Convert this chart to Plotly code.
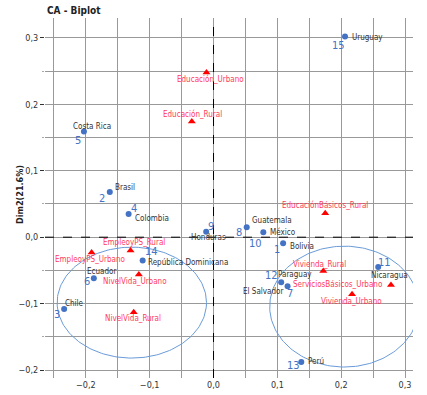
import numpy as np
import plotly.graph_objects as go

# ---------------- data ----------------
countries = ["Bolivia", "Brasil", "Chile", "Colombia", "Costa Rica", "Ecuador",
             "El Salvador", "Guatemala", "Honduras", "México", "Nicaragua",
             "Paraguay", "Perú", "República Dominicana", "Uruguay"]
country_ids = ["1", "2", "3", "4", "5", "6", "7", "8", "9", "10", "11", "12", "13", "14", "15"]
country_dim1 = [0.109, -0.1625, -0.234, -0.133, -0.203, -0.1875, 0.116, 0.052, -0.0115,
                0.078, 0.258, 0.106, 0.1375, -0.111, 0.206]
country_dim2 = [-0.009, 0.068, -0.108, 0.035, 0.159, -0.062, -0.074, 0.015, 0.008,
                0.0075, -0.045, -0.068, -0.188, -0.035, 0.302]

categories = ["Educación_Urbano", "Educación_Rural", "EducaciónBásicos_Rural",
              "EmpleoyPS_Rural", "EmpleoyPS_Urbano", "NivelVida_Urbano",
              "NivelVida_Rural", "Vivienda_Rural", "ServiciosBásicos_Urbano",
              "Vivienda_Urbano"]
category_dim1 = [-0.011, -0.034, 0.175, -0.130, -0.191, -0.117, -0.125, 0.172, 0.278, 0.217]
category_dim2 = [0.248, 0.174, 0.036, -0.020, -0.023, -0.056, -0.113, -0.051, -0.072, -0.086]

# cluster ellipses (center dim1, center dim2, radius dim1, radius dim2)
cluster_cx = [-0.128, 0.205]
cluster_cy = [-0.0985, -0.1045]
cluster_rx = [0.117, 0.117]
cluster_ry = [0.0835, 0.091]

x_ticks = [-0.2, -0.1, 0.0, 0.1, 0.2, 0.3]
y_ticks = [-0.2, -0.1, 0.0, 0.1, 0.2, 0.3]

# ---------------- label styles (pixel offsets) ----------------
# (anchor, dx, dy) ; dy positive = down
country_label_style = [
    ("left", 5, 3), ("center", 15, -5), ("center", 10, -5), ("left", 4, 5),
    ("center", 8, -5), ("center", 8, -7), ("right", -3, 5), ("left", 3, -7),
    ("center", 2, 6), ("left", 5, 0), ("center", 11, 8), ("center", 14, -8),
    ("left", 5, -1), ("left", 3, 2), ("left", 5, 1)]
country_id_style = [
    (-6, 6), (-8, 6), (-7, 6), (5, -5), (-6, 9), (-7, 3), (2, 7), (-8, 5),
    (5, -5), (-8, 11), (6, -5), (-10, -7), (-8, 3), (9, -9), (-7, 9)]
category_label_style = [
    ("center", 4, 7), ("center", 1, -8), ("center", 0, -8), ("center", 3, -8),
    ("center", -2, 7), ("center", -4, 7), ("center", -1, 6), ("center", -4, -7),
    ("right", -6, -1), ("center", -1, 7)]

FONT = "DejaVu Sans Condensed"
BLUE = "#4472C4"
RED = "#FF0000"
PINK = "#FF3B5C"
DARK = "#333333"
GRID = "#999999"

fig = go.Figure()

# ellipses
t = np.linspace(0, 2 * np.pi, 200)
for cx, cy, rx, ry in zip(cluster_cx, cluster_cy, cluster_rx, cluster_ry):
    fig.add_trace(go.Scatter(x=cx + rx * np.cos(t), y=cy + ry * np.sin(t), mode="lines",
                             line=dict(color="#6A9BD8", width=1), hoverinfo="skip",
                             showlegend=False))

fig.add_trace(go.Scatter(x=country_dim1, y=country_dim2, mode="markers",
                         marker=dict(color=BLUE, size=6), text=countries,
                         showlegend=False))
fig.add_trace(go.Scatter(x=category_dim1, y=category_dim2, mode="markers",
                         marker=dict(color=RED, size=7, symbol="triangle-up"),
                         text=categories, showlegend=False))

annotations = []
for name, x, y, (anc, dx, dy) in zip(countries, country_dim1, country_dim2, country_label_style):
    annotations.append(dict(x=x, y=y, text=name, showarrow=False, xanchor=anc,
                            yanchor="middle", xshift=dx, yshift=-dy,
                            font=dict(family=FONT, size=8, color=DARK)))
for cid, x, y, (dx, dy) in zip(country_ids, country_dim1, country_dim2, country_id_style):
    annotations.append(dict(x=x, y=y, text=cid, showarrow=False, xanchor="center",
                            yanchor="middle", xshift=dx, yshift=-dy,
                            font=dict(family=FONT, size=11, color=BLUE)))
for name, x, y, (anc, dx, dy) in zip(categories, category_dim1, category_dim2, category_label_style):
    annotations.append(dict(x=x, y=y, text=name, showarrow=False, xanchor=anc,
                            yanchor="middle", xshift=dx, yshift=-dy,
                            font=dict(family=FONT, size=8, color=PINK)))

annotations.append(dict(x=0, y=1.0, xref="paper", yref="paper", xanchor="left",
                        yanchor="middle", yshift=8, text="<b>CA - Biplot</b>",
                        showarrow=False, font=dict(family=FONT, size=10, color="#222222")))
annotations.append(dict(x=0, y=0.5, xref="paper", yref="paper", xanchor="center",
                        yanchor="middle", xshift=-25, yshift=3, textangle=-90,
                        text="<b>Dim2(21.6%)</b>", showarrow=False,
                        font=dict(family=FONT, size=9, color="#222222")))

shapes = [
    dict(type="line", xref="x", yref="paper", x0=0, x1=0, y0=0, y1=1,
         line=dict(color="black", width=1, dash="dash")),
    dict(type="line", xref="paper", yref="y", x0=0, x1=1, y0=0, y1=0,
         line=dict(color="black", width=1, dash="dash")),
]

axis_common = dict(
    showgrid=True, gridcolor=GRID, gridwidth=1, zeroline=False, showline=False,
    tickformat=".1f", tickfont=dict(family=FONT, size=9, color=DARK),
    automargin=False,
)

fig.update_layout(
    width=427, height=395,
    margin=dict(l=45, r=14, t=18, b=17),
    plot_bgcolor="white", paper_bgcolor="white",
    separators=",.",
    xaxis=dict(range=[-0.264, 0.3125], tickvals=x_ticks, ticks="",
               minor=dict(dtick=0.05, showgrid=True, gridcolor=GRID, gridwidth=1),
               **axis_common),
    yaxis=dict(range=[-0.212, 0.33], tickvals=y_ticks,
               ticks="outside", ticklen=4, tickcolor="#333333", tickwidth=1,
               minor=dict(dtick=0.05, showgrid=True, gridcolor=GRID, gridwidth=1,
                          ticks="outside", ticklen=2, tickcolor="#aaaaaa"),
               **axis_common),
    annotations=annotations, shapes=shapes,
)

fig.write_html("out.html", config={"displayModeBar": False},
               post_script="document.body.style.margin='0';")
